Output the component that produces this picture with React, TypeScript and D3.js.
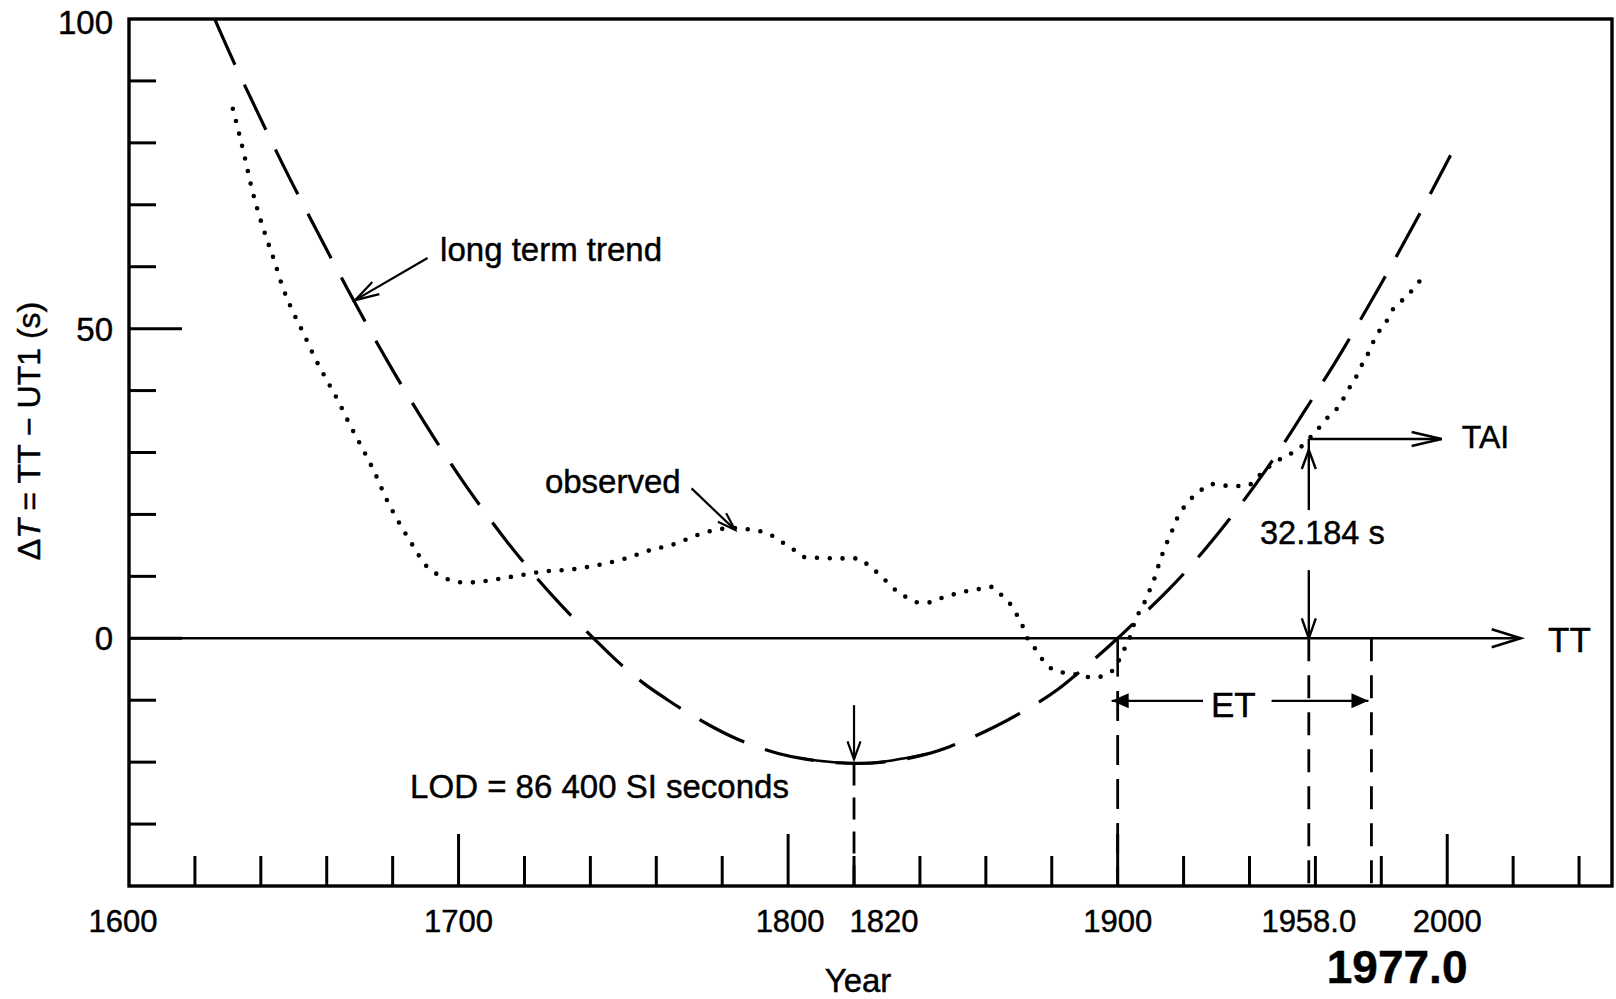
import React from "react";
import * as d3 from "d3";

const W = 1616;
const H = 999;
const FONT = "'Liberation Sans', Arial, Helvetica, sans-serif";

// Long-term trend (dashed curve)
const trendYears = [1626, 1632, 1635, 1642, 1645, 1652, 1656, 1663, 1666, 1672, 1676, 1680, 1689, 1694, 1702, 1706, 1715, 1720, 1730, 1735, 1741, 1749, 1756, 1763, 1776, 1783, 1797, 1804, 1821, 1842, 1849, 1863, 1870, 1882, 1888, 1900, 1904, 1915, 1921, 1931, 1934, 1945, 1948, 1956, 1961, 1968, 1972, 1980, 1984, 1991, 2001];
const trendValues = [100, 92.8, 89.4, 81.6, 78.3, 70.9, 66.8, 59.7, 56.7, 50.8, 47, 43.3, 35.4, 31.2, 24.8, 21.8, 15.4, 12.1, 6, 3.2, 0, -4.1, -7.2, -9.8, -14, -15.9, -18.6, -19.4, -20.2, -18.7, -17.5, -14.2, -12.2, -8.2, -5.6, 0, 2, 7.6, 11, 17.3, 19.3, 27.2, 29.5, 36.1, 40.3, 46.3, 49.9, 57.3, 61.1, 67.9, 78];

// Observed ΔT (dotted curve)
const observedYears = [1631.5, 1633.5, 1635.3, 1637, 1639, 1641.6, 1644, 1646.5, 1649.5, 1653, 1656.2, 1660, 1663.8, 1667, 1671, 1674.6, 1678, 1681.7, 1686, 1690, 1694, 1698, 1702, 1706, 1710, 1718, 1726, 1734, 1742, 1750, 1758, 1766, 1772, 1779, 1784, 1788, 1791.5, 1795, 1798.5, 1802, 1805, 1809, 1817, 1821.5, 1824.3, 1827.3, 1830.4, 1833, 1836, 1839.5, 1843, 1847, 1851, 1855, 1858.5, 1861.7, 1864.7, 1867.3, 1869.5, 1871.3, 1872.8, 1875, 1877, 1879.4, 1883, 1886.3, 1890, 1893.6, 1896.8, 1899.5, 1901.2, 1903.2, 1905.7, 1907.5, 1909.2, 1910.6, 1912, 1913.3, 1914.6, 1916.4, 1917.9, 1919.9, 1922.4, 1925, 1928.5, 1931.5, 1934.9, 1939.1, 1941.7, 1944.2, 1947.4, 1950.7, 1954.3, 1958, 1960.5, 1962.9, 1965.4, 1967.9, 1969.4, 1971.7, 1973.5, 1975.3, 1977, 1978.6, 1981.3, 1983.1, 1985.6, 1988.4, 1991.2, 1993];
const observedValues = [85.5, 81.3, 77.3, 73.2, 69.2, 64.8, 61.1, 56.9, 53, 49.2, 45.5, 41.7, 38, 34.5, 30.5, 26.7, 22.6, 18.9, 15.1, 11.8, 10.2, 9.3, 9.0, 9.1, 9.4, 10.1, 10.8, 11.1, 11.8, 12.8, 14.2, 15.3, 16.6, 17.6, 17.8, 17.6, 17.3, 16.6, 15.4, 14.2, 13.1, 13, 12.9, 12.9, 11.8, 10.5, 8.9, 7.6, 6.6, 5.8, 5.8, 6.6, 7.2, 7.7, 8, 8.3, 7, 5.6, 3.7, 1.8, -0.2, -1.7, -3.3, -4.7, -5.5, -5.7, -6.2, -6.3, -5.7, -4.6, -2.5, -0.6, 3.4, 5, 7.2, 8.8, 11.1, 13.2, 15, 17.2, 19.2, 21, 22.6, 23.8, 24.9, 24.7, 24.6, 24.6, 25.5, 27, 28.2, 29.4, 30.3, 32.2, 33.6, 35.2, 36.5, 38, 39.8, 41.4, 43.6, 45.2, 47.2, 49, 50.9, 52.8, 54.2, 55.6, 57.4, 58.5];

const yMinorTicks = [-30, -20, -10, 10, 20, 30, 40, 60, 70, 80, 90];
const yMajorTicks = [0, 50];
const yTickLabels = [0, 50, 100];
const xMinorTicks = [1620, 1640, 1660, 1680, 1720, 1740, 1760, 1780, 1820, 1840, 1860, 1880, 1920, 1940, 1960, 1980, 2020, 2040];
const xMajorTicks = [1700, 1800, 1900, 2000];
const xLabelYears = [1600, 1700, 1800, 1820, 1900, 1958, 2000];
const xLabelTexts = ["1600", "1700", "1800", "1820", "1900", "1958.0", "2000"];

const LOD_YEAR = 1820;
const ET_START = 1900;
const TAI_YEAR = 1958;
const ET_END = 1977;
const TAI_OFFSET = 32.184;

type P = [number, number];

function openHead(tip: P, from: P, len: number, half: number): string {
  const dx = tip[0] - from[0];
  const dy = tip[1] - from[1];
  const d = Math.hypot(dx, dy);
  const ux = dx / d, uy = dy / d;
  const bx = tip[0] - ux * len, by = tip[1] - uy * len;
  const px = -uy * half, py = ux * half;
  return `M${bx + px},${by + py}L${tip[0]},${tip[1]}L${bx - px},${by - py}`;
}
function filledHead(tip: P, from: P, len: number, half: number): string {
  const dx = tip[0] - from[0];
  const dy = tip[1] - from[1];
  const d = Math.hypot(dx, dy);
  const ux = dx / d, uy = dy / d;
  const bx = tip[0] - ux * len, by = tip[1] - uy * len;
  const px = -uy * half, py = ux * half;
  return `M${tip[0]},${tip[1]}L${bx + px},${by + py}L${bx - px},${by - py}Z`;
}

const textStyle = { fill: "#000", stroke: "#000", strokeWidth: 0.45 };

export default function App() {
  const x = d3.scaleLinear().domain([1600, 2050]).range([129, 1612]);
  const y = d3.scaleLinear().domain([-40, 100]).range([886, 19]);
  const [x0, x1] = x.range();
  const yBot = y(-40);
  const yTop = y(100);

  const trendLine = d3
    .line<number>()
    .x((_, i) => x(trendYears[i]))
    .y((d) => y(d))
    .curve(d3.curveMonotoneX);
  const obsLine = d3
    .line<number>()
    .x((_, i) => x(observedYears[i]))
    .y((d) => y(d))
    .curve(d3.curveMonotoneX);

  const solidIdx = trendYears.map((_, i) => i).filter((i) => trendYears[i] >= 1804 && trendYears[i] <= 1842);
  const solidLine = d3
    .line<number>()
    .x((i) => x(trendYears[i]))
    .y((i) => y(trendValues[i]))
    .curve(d3.curveMonotoneX);

  const lodMin = trendValues[trendYears.indexOf(1821)];

  const lttFrom: P = [x(1690.6), y(61.4)];
  const lttTip: P = [x(1668.6), y(54.6)];
  const obsFrom: P = [x(1770.7), y(24.2)];
  const obsTip: P = [x(1783.9), y(17.5)];
  const lodTop: P = [x(LOD_YEAR), y(-10.8)];
  const lodTip: P = [x(LOD_YEAR), y(lodMin) - 4];
  const etY = y(-10.1);
  const etL: P = [x(ET_START) - 6, etY];
  const etR: P = [x(ET_END) - 3, etY];
  const taiX = x(TAI_YEAR);
  const taiCorner: P = [taiX, y(TAI_OFFSET)];
  const taiUpTip: P = [taiX, y(TAI_OFFSET) + 11];
  const taiDownTip: P = [taiX, y(0)];
  const taiHTip: P = [x(1998.3), y(TAI_OFFSET)];
  const ttTip: P = [x(2022.3), y(0)];

  const stroke = "#000";

  return (
    <svg
      width={W}
      height={H}
      viewBox={`0 0 ${W} ${H}`}
      style={{ position: "absolute", left: 0, top: 0, display: "block", background: "#fff" }}
      fontFamily={FONT}
    >
      <defs>
        <clipPath id="plot">
          <rect x={x0} y={yTop} width={x1 - x0} height={yBot - yTop} />
        </clipPath>
      </defs>
      <rect x={0} y={0} width={W} height={H} fill="#fff" />

      {/* y ticks */}
      {yMinorTicks.map((v) => (
        <line key={"ym" + v} x1={x0} x2={x0 + 27} y1={y(v)} y2={y(v)} stroke={stroke} strokeWidth={3} />
      ))}
      {yMajorTicks.map((v) => (
        <line key={"yM" + v} x1={x0} x2={x0 + 53} y1={y(v)} y2={y(v)} stroke={stroke} strokeWidth={3} />
      ))}
      {yTickLabels.map((v) => (
        <text key={"yl" + v} x={x0 - 16} y={y(v) + (v === 100 ? 15 : 12)} fontSize={33} textAnchor="end" style={textStyle}>
          {v}
        </text>
      ))}

      {/* x ticks */}
      {xMinorTicks.map((t) => (
        <line key={"xm" + t} x1={x(t)} x2={x(t)} y1={yBot} y2={yBot - 30} stroke={stroke} strokeWidth={3} />
      ))}
      {xMajorTicks.map((t) => (
        <line key={"xM" + t} x1={x(t)} x2={x(t)} y1={yBot} y2={yBot - 52} stroke={stroke} strokeWidth={3} />
      ))}
      {xLabelYears.map((t, i) => {
        const shift = t === 1600 ? -6 : t === 1820 ? 30 : t === 1800 ? 2 : 0;
        return (
          <text key={"xl" + t} x={x(t) + shift} y={932} fontSize={31} textAnchor="middle" style={textStyle}>
            {xLabelTexts[i]}
          </text>
        );
      })}
      <text x={x(1984.8)} y={983} fontSize={46} fontWeight="bold" textAnchor="middle" style={textStyle}>
        1977.0
      </text>
      <text x={x(1820) + 4} y={992} fontSize={33} textAnchor="middle" style={textStyle}>
        Year
      </text>

      {/* y axis title */}
      <text transform={`translate(40,431) rotate(-90)`} fontSize={32} textAnchor="middle" style={textStyle}>
        {"Δ"}
        <tspan fontStyle="italic">T</tspan>
        {" = TT − UT1 (s)"}
      </text>

      {/* zero (TT) line with arrow */}
      <line x1={x0} x2={ttTip[0]} y1={y(0)} y2={y(0)} stroke={stroke} strokeWidth={2.6} />
      <path d={openHead(ttTip, [x0, y(0)], 29, 9)} fill="none" stroke={stroke} strokeWidth={2.6} />
      <text x={x(2030.6)} y={y(-2.2)} fontSize={35} style={textStyle}>
        TT
      </text>

      {/* curves */}
      <g clipPath="url(#plot)">
        <path
          d={trendLine(trendValues) || ""}
          fill="none"
          stroke={stroke}
          strokeWidth={3.2}
          strokeDasharray="50 22"
        />
        <path d={solidLine(solidIdx) || ""} fill="none" stroke={stroke} strokeWidth={2.6} />
        <path
          d={obsLine(observedValues) || ""}
          fill="none"
          stroke={stroke}
          strokeWidth={4.6}
          strokeLinecap="round"
          strokeDasharray="0 12.8"
        />
      </g>

      {/* vertical reference lines */}
      <line x1={lodTip[0]} x2={lodTip[0]} y1={y(lodMin)} y2={yBot} stroke={stroke} strokeWidth={2.8} strokeDasharray="22 12" />
      <line x1={x(ET_START)} x2={x(ET_START)} y1={y(0)} y2={y(-6.2)} stroke={stroke} strokeWidth={2.6} />
      <line x1={x(ET_START)} x2={x(ET_START)} y1={y(-8.5)} y2={yBot} stroke={stroke} strokeWidth={2.8} strokeDasharray="30 14" />
      <line x1={taiX} x2={taiX} y1={y(0)} y2={yBot} stroke={stroke} strokeWidth={2.8} strokeDasharray="23 14" />
      <line x1={x(ET_END)} x2={x(ET_END)} y1={y(0)} y2={yBot} stroke={stroke} strokeWidth={2.8} strokeDasharray="23 14" />

      {/* LOD arrow */}
      <line x1={lodTop[0]} x2={lodTip[0]} y1={lodTop[1]} y2={lodTip[1]} stroke={stroke} strokeWidth={2.2} />
      <path d={openHead(lodTip, lodTop, 18, 6.5)} fill="none" stroke={stroke} strokeWidth={2.2} />
      <text x={x(1685.3)} y={y(-25.8)} fontSize={33} style={textStyle}>
        LOD = 86 400 SI seconds
      </text>

      {/* long term trend label */}
      <line x1={lttFrom[0]} y1={lttFrom[1]} x2={lttTip[0]} y2={lttTip[1]} stroke={stroke} strokeWidth={2.2} />
      <path d={openHead(lttTip, lttFrom, 24, 7)} fill="none" stroke={stroke} strokeWidth={2.2} />
      <text x={x(1694.4)} y={y(60.9)} fontSize={33} style={textStyle}>
        long term trend
      </text>

      {/* observed label */}
      <line x1={obsFrom[0]} y1={obsFrom[1]} x2={obsTip[0]} y2={obsTip[1]} stroke={stroke} strokeWidth={2.2} />
      <path d={openHead(obsTip, obsFrom, 18, 6)} fill="none" stroke={stroke} strokeWidth={2.2} />
      <text x={x(1726.2)} y={y(23.4)} fontSize={33} style={textStyle}>
        observed
      </text>

      {/* ET arrow */}
      <line x1={etL[0]} x2={x(1925.9)} y1={etY} y2={etY} stroke={stroke} strokeWidth={2.4} />
      <path d={filledHead(etL, [etL[0] + 30, etY], 17, 7.5)} fill={stroke} />
      <text x={x(1928.3)} y={etY + 16} fontSize={35} style={textStyle}>
        ET
      </text>
      <line x1={x(1946.7)} x2={etR[0]} y1={etY} y2={etY} stroke={stroke} strokeWidth={2.4} />
      <path d={filledHead(etR, [etR[0] - 30, etY], 17, 7.5)} fill={stroke} />

      {/* TAI offset */}
      <line x1={taiX} x2={taiX} y1={taiCorner[1]} y2={y(20.7)} stroke={stroke} strokeWidth={2.4} />
      <path d={openHead(taiUpTip, [taiX, y(20.7)], 19, 7)} fill="none" stroke={stroke} strokeWidth={2.4} />
      <line x1={taiX} x2={taiX} y1={y(11)} y2={taiDownTip[1]} stroke={stroke} strokeWidth={2.4} />
      <path d={openHead(taiDownTip, [taiX, y(11)], 20, 7)} fill="none" stroke={stroke} strokeWidth={2.4} />
      <text x={x(1943.2)} y={y(15.3)} fontSize={32.5} style={textStyle}>
        32.184 s
      </text>
      <line x1={taiX} x2={taiHTip[0]} y1={taiCorner[1]} y2={taiCorner[1]} stroke={stroke} strokeWidth={2.4} />
      <path d={openHead(taiHTip, taiCorner, 30, 7)} fill="none" stroke={stroke} strokeWidth={2.4} />
      <text x={x(2004.4)} y={y(30.8)} fontSize={32} style={textStyle}>
        TAI
      </text>

      {/* frame */}
      <rect x={x0} y={yTop} width={x1 - x0} height={yBot - yTop} fill="none" stroke={stroke} strokeWidth={3.4} />
    </svg>
  );
}
